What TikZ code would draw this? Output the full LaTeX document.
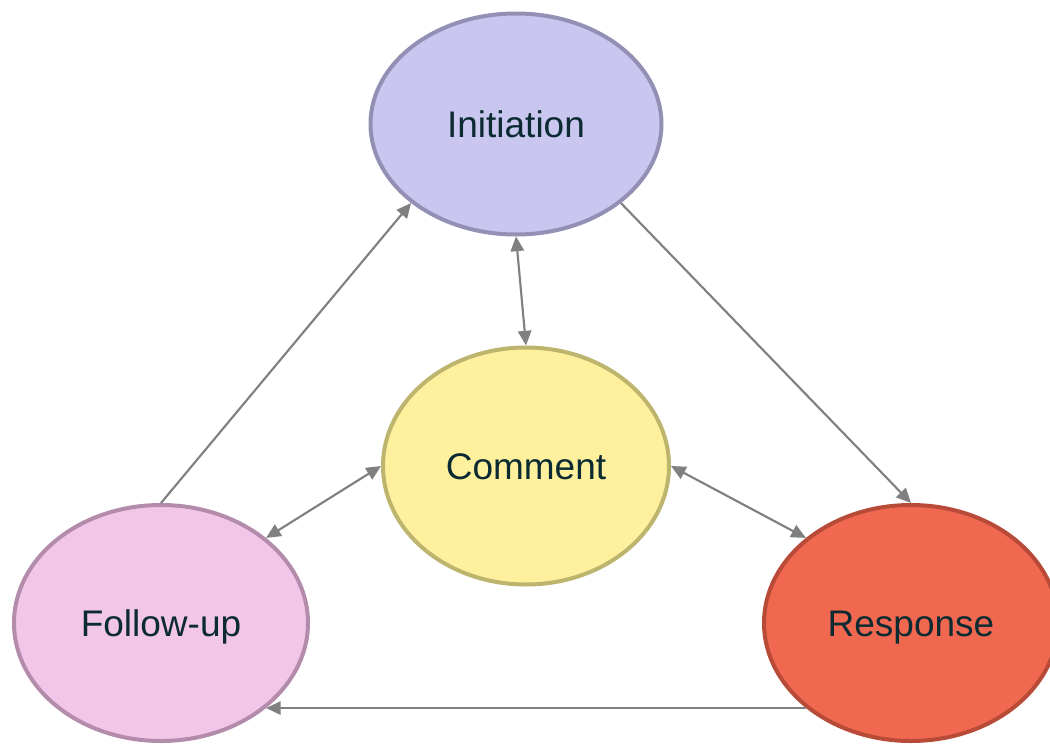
\documentclass[tikz,border=0pt]{standalone}
\usepackage{fontspec}
\setmainfont{Liberation Sans}
\usetikzlibrary{shapes,shapes.geometric,arrows.meta}
\definecolor{initfill}{HTML}{C9C7EF}
\definecolor{initline}{HTML}{9490B5}
\definecolor{comfill}{HTML}{FEF09C}
\definecolor{comline}{HTML}{BDB46E}
\definecolor{folfill}{HTML}{F2C6E8}
\definecolor{folline}{HTML}{B48CAB}
\definecolor{respfill}{HTML}{F06850}
\definecolor{respline}{HTML}{B84A38}
\definecolor{linkgray}{HTML}{808080}
\definecolor{labeltext}{HTML}{0B2A32}

\begin{document}
\begin{tikzpicture}[x=0.75pt,y=-0.75pt]
				\tikzstyle{enode}=[ellipse, draw, line width=3pt, inner sep=0pt, text=labeltext, font=\fontsize{27.75}{33}\selectfont, text height=20.3pt, text depth=0pt]
				\tikzstyle{small}=[enode, minimum width=218.25pt, minimum height=165.75pt]
				\tikzstyle{big}=[enode, minimum width=220.5pt, minimum height=177pt]
				\tikzstyle{link}=[draw=linkgray, line width=1.6pt, -{Triangle[length=11pt,width=10pt]}]
				\tikzstyle{twolink}=[link, {Triangle[length=11pt,width=10pt]}-{Triangle[length=11pt,width=10pt]}]
				\useasboundingbox (0,0) rectangle (1050,746);
				\node[small, fill=initfill, draw=initline] (init) at (516,124) {Initiation};
				\node[enode, minimum width=214.5pt, minimum height=177.75pt, fill=comfill, draw=comline] (com) at (526,466) {Comment};
				\node[big, fill=folfill, draw=folline] (fol) at (161,623) {Follow-up};
				\node[big, fill=respfill, draw=respline] (resp) at (911,623) {Response};
				\draw[link] (init.-37) -- (resp.90);
				\draw[link] (fol.90) -- (init.-143);
				\draw[link] (resp.-141) -- (fol.-39);
				\draw[twolink] (init.south) -- (com.north);
				\draw[twolink] (com.west) -- (fol.39);
				\draw[twolink] (com.east) -- (resp.141);
			\end{tikzpicture}
\end{document}
